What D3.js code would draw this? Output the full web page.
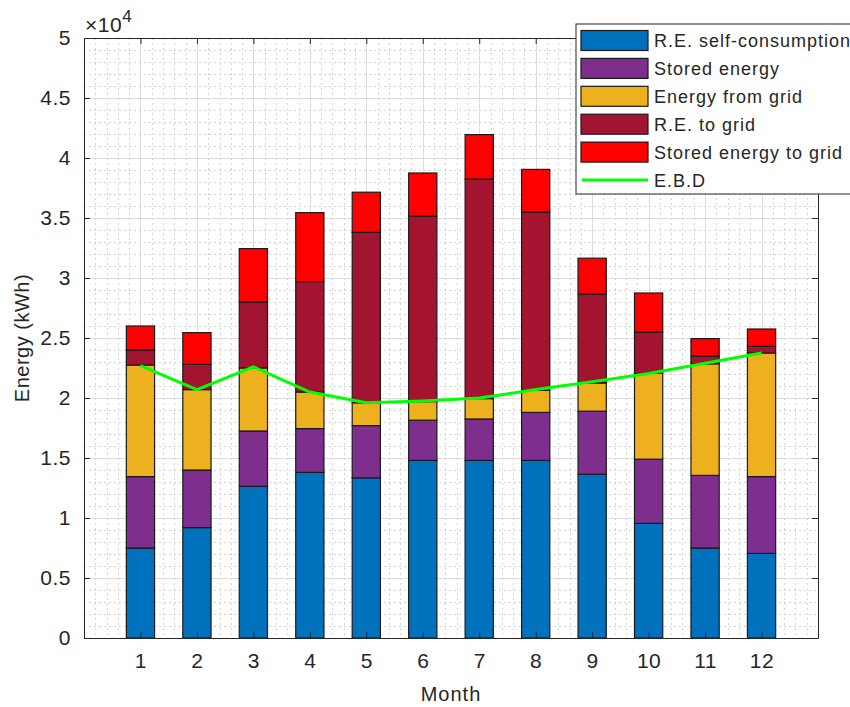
<!DOCTYPE html>
<html>
<head>
<meta charset="utf-8">
<script src="https://cdn.jsdelivr.net/npm/d3@7"></script>
<style>
  body { margin: 0; background: #fff; }
  text { font-family: "Liberation Sans", Arial, sans-serif; fill: #262626; }
</style>
</head>
<body>
<script>
//Data
var months = [1, 2, 3, 4, 5, 6, 7, 8, 9, 10, 11, 12];
var reSelf = [7500, 9200, 12650, 13800, 13350, 14800, 14800, 14800, 13650, 9550, 7500, 7050];
var stored = [5950, 4800, 4600, 3650, 4350, 3350, 3450, 4000, 5250, 5350, 6050, 6400];
var fromGrid = [9300, 6700, 5250, 3050, 1900, 1550, 1700, 1850, 2350, 7150, 9300, 10300];
var reToGrid = [1250, 2100, 5500, 9200, 14200, 15450, 18300, 14850, 7400, 3450, 650, 550];
var storedToGrid = [2000, 2650, 4450, 5750, 3350, 3600, 3700, 3550, 3000, 3250, 1450, 1450];
var ebd = [22700, 20700, 22600, 20500, 19600, 19750, 20000, 20700, 21350, 22050, 22900, 23750];

var seriesNames = ["R.E. self-consumption", "Stored energy", "Energy from grid", "R.E. to grid", "Stored energy to grid"];
var seriesKeys = ["reSelf", "stored", "fromGrid", "reToGrid", "storedToGrid"];
var colors = ["#0072BD", "#7E2F8E", "#EDB120", "#A2142F", "#FF0000"];
var yTicks = [0, 5000, 10000, 15000, 20000, 25000, 30000, 35000, 40000, 45000, 50000];

//Width and height
var w = 850;
var h = 707;
var pLeft = 84, pRight = 818, pTop = 38, pBottom = 638;

var table = months.map(function (m, i) {
  return {
    month: m,
    reSelf: reSelf[i],
    stored: stored[i],
    fromGrid: fromGrid[i],
    reToGrid: reToGrid[i],
    storedToGrid: storedToGrid[i],
  };
});

var stack = d3.stack().keys(seriesKeys);
var layers = stack(table);

var xScale = d3.scaleLinear().domain([0, 13]).range([pLeft, pRight]);
var yScale = d3.scaleLinear().domain([0, 50000]).range([pBottom, pTop]);
var barW = xScale(0.5) - xScale(0);

var svg = d3.select("body").append("svg").attr("width", w).attr("height", h);

// Minor grid
var grid = svg.append("g");
grid
  .selectAll(".mx")
  .data(d3.range(0.2, 13, 0.2).filter(function (v) { return Math.abs(v - Math.round(v)) > 0.01; }))
  .enter()
  .append("line")
  .attr("x1", function (d) { return Math.round(xScale(d)) + 0.5; })
  .attr("x2", function (d) { return Math.round(xScale(d)) + 0.5; })
  .attr("y1", pTop)
  .attr("y2", pBottom)
  .attr("stroke", "#d4d4d4")
  .attr("stroke-dasharray", "2,3");
grid
  .selectAll(".my")
  .data(d3.range(1000, 50000, 1000).filter(function (v) { return v % 5000 !== 0; }))
  .enter()
  .append("line")
  .attr("x1", pLeft)
  .attr("x2", pRight)
  .attr("y1", function (d) { return Math.round(yScale(d)) + 0.5; })
  .attr("y2", function (d) { return Math.round(yScale(d)) + 0.5; })
  .attr("stroke", "#d4d4d4")
  .attr("stroke-dasharray", "2,3");

// Major grid
grid
  .selectAll(".gx")
  .data(months)
  .enter()
  .append("line")
  .attr("x1", function (d) { return Math.round(xScale(d)) + 0.5; })
  .attr("x2", function (d) { return Math.round(xScale(d)) + 0.5; })
  .attr("y1", pTop)
  .attr("y2", pBottom)
  .attr("stroke", "#dcdcdc");
grid
  .selectAll(".gy")
  .data(yTicks.slice(1, -1))
  .enter()
  .append("line")
  .attr("x1", pLeft)
  .attr("x2", pRight)
  .attr("y1", function (d) { return Math.round(yScale(d)) + 0.5; })
  .attr("y2", function (d) { return Math.round(yScale(d)) + 0.5; })
  .attr("stroke", "#dcdcdc");

// Stacked bars
svg
  .selectAll(".layer")
  .data(layers)
  .enter()
  .append("g")
  .attr("fill", function (d, i) { return colors[i]; })
  .selectAll("rect")
  .data(function (d) { return d; })
  .enter()
  .append("rect")
  .attr("x", function (d) { return xScale(d.data.month) - barW / 2; })
  .attr("y", function (d) { return yScale(d[1]); })
  .attr("width", barW)
  .attr("height", function (d) { return yScale(d[0]) - yScale(d[1]); })
  .attr("stroke", "#1a1a1a")
  .attr("stroke-width", 1.2);

// E.B.D line
var line = d3
  .line()
  .x(function (d, i) { return xScale(months[i]); })
  .y(function (d) { return yScale(d); });
svg
  .append("path")
  .datum(ebd)
  .attr("d", line)
  .attr("fill", "none")
  .attr("stroke", "#00FF00")
  .attr("stroke-width", 3);

// Axes (box with inward ticks)
var xAxisB = d3.axisBottom(xScale).tickValues(months).tickSizeInner(-6).tickSizeOuter(0).tickPadding(15).tickFormat(d3.format("d"));
var xAxisT = d3.axisTop(xScale).tickValues(months).tickSizeInner(-6).tickSizeOuter(0).tickFormat("");
var yAxisL = d3.axisLeft(yScale).tickValues(yTicks).tickSizeInner(-6).tickSizeOuter(0).tickPadding(13).tickFormat(function (d) { return d / 10000; });
var yAxisR = d3.axisRight(yScale).tickValues(yTicks).tickSizeInner(-6).tickSizeOuter(0).tickFormat("");

function styleAxis(g) {
  g.attr("font-size", null).attr("font-family", null);
  g.selectAll("path").attr("stroke", "#262626");
  g.selectAll("line").attr("stroke", "#262626");
  g.selectAll("text").attr("fill", "#303030").style("font-size", "21px").style("letter-spacing", "0.5px");
}

svg.append("g").attr("transform", "translate(0," + pBottom + ")").call(xAxisB).call(styleAxis);
svg.append("g").attr("transform", "translate(0," + pTop + ")").call(xAxisT).call(styleAxis);
svg.append("g").attr("transform", "translate(" + pLeft + ",0)").call(yAxisL).call(styleAxis);
svg.append("g").attr("transform", "translate(" + pRight + ",0)").call(yAxisR).call(styleAxis);

// Exponent label
var expo = svg.append("text").attr("x", 85).attr("y", 32).style("font-size", "21px").style("letter-spacing", "0.5px").attr("fill", "#303030");
expo.append("tspan").text("\u00d710");
expo.append("tspan").attr("dy", -10).style("font-size", "17px").text("4");

// Axis titles
svg
  .append("text")
  .attr("x", (pLeft + pRight) / 2)
  .attr("y", 701)
  .attr("text-anchor", "middle")
  .attr("fill", "#303030")
  .style("font-size", "20px")
  .style("letter-spacing", "1px")
  .text("Month");
svg
  .append("text")
  .attr("transform", "translate(29," + (pTop + pBottom) / 2 + ") rotate(-90)")
  .attr("text-anchor", "middle")
  .attr("fill", "#303030")
  .style("font-size", "20px")
  .style("letter-spacing", "0.5px")
  .text("Energy (kWh)");

// Legend
var lg = svg.append("g");
lg.append("rect")
  .attr("x", 576)
  .attr("y", 24)
  .attr("width", 300)
  .attr("height", 170)
  .attr("fill", "#fff")
  .attr("stroke", "#262626");
var rowY = function (i) { return 40.5 + i * 27.9; };
lg.selectAll(".lp")
  .data(seriesNames)
  .enter()
  .append("rect")
  .attr("x", 581)
  .attr("y", function (d, i) { return rowY(i) - 10; })
  .attr("width", 67)
  .attr("height", 20)
  .attr("fill", function (d, i) { return colors[i]; })
  .attr("stroke", "#1a1a1a")
  .attr("stroke-width", 1.2);
lg.append("line")
  .attr("x1", 582)
  .attr("x2", 648)
  .attr("y1", rowY(5))
  .attr("y2", rowY(5))
  .attr("stroke", "#00FF00")
  .attr("stroke-width", 3);
lg.selectAll(".lt")
  .data(seriesNames.concat(["E.B.D"]))
  .enter()
  .append("text")
  .attr("x", 654)
  .attr("y", function (d, i) { return rowY(i) + 6.5; })
  .attr("fill", "#303030")
  .style("font-size", "18px")
  .style("letter-spacing", "1px")
  .text(function (d) { return d; });
</script>
</body>
</html>
